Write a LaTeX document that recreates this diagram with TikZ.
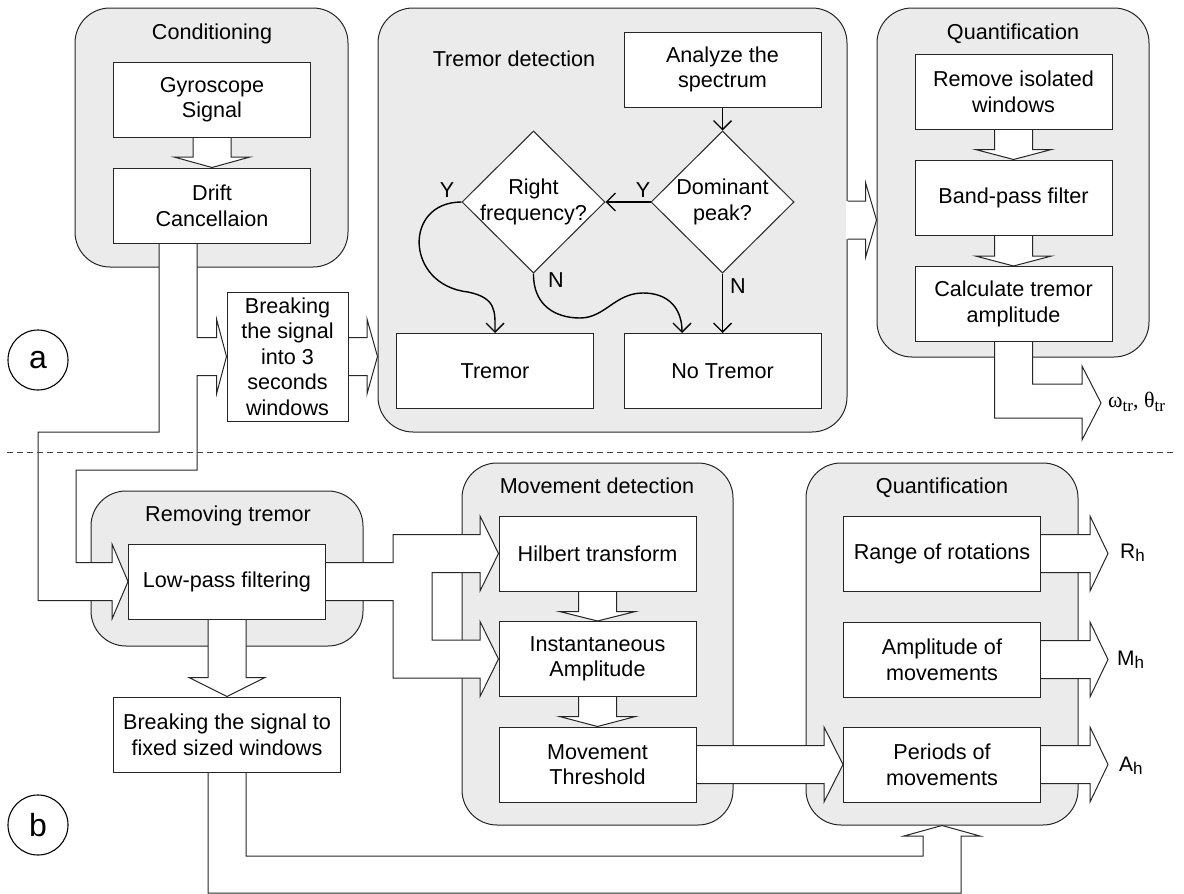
\documentclass[tikz,border=0pt]{standalone}
\usepackage{fontspec}
\setmainfont{Liberation Sans}
\newfontfamily\serifgreek{Liberation Serif}
\usetikzlibrary{shapes.geometric,arrows.meta,calc}
\definecolor{cgray}{RGB}{235,235,235}
\pgfdeclarelayer{bg}
\pgfdeclarelayer{arr}
\pgfsetlayers{bg,arr,main}
\tikzset{
 container/.style={draw=black!85, fill=cgray, line width=1pt, rounded corners=35pt, inner sep=0pt},
 title/.style={anchor=base, inner sep=0pt},
 stepbox/.style={draw=black!85, fill=white, line width=1pt, align=center, inner sep=0pt, minimum width=197pt, minimum height=75pt},
 decision/.style={diamond, draw=black!85, fill=white, line width=1pt, inner sep=0pt, minimum width=143pt, minimum height=142pt},
 blkfill/.style={fill=white},
 blkline/.style={draw=black!85, line width=1pt},
 flow/.style={draw=black, line width=1.4pt, -{Straight Barb[length=9pt,width=18pt]}},
 yn/.style={anchor=base, inner sep=0pt},
 outlabel/.style={anchor=west, inner sep=0pt, font=\fontsize{21}{24}\selectfont},
 marker/.style={circle, draw=black, line width=1.1pt, minimum size=60pt, inner sep=0pt, font=\fontsize{32}{32}\selectfont},
}
\newcommand{\lowsub}[1]{\raisebox{-3.5pt}{\fontsize{17}{17}\selectfont #1}}
% vertical block arrow: #1 source (above), #2 target (below), #3 head length
\newcommand{\vblock}[3]{%
 \fill[blkfill] ($(#1.south)+(-19,-1.5)$) -- ($(#2.north)+(-19,-#3)$) -- ($(#2.north)+(-38,-#3)$) -- (#2.north) -- ($(#2.north)+(38,-#3)$) -- ($(#2.north)+(19,-#3)$) -- ($(#1.south)+(19,-1.5)$) -- cycle;
 \draw[blkline] ($(#1.south)+(-19,0)$) -- ($(#2.north)+(-19,-#3)$) -- ($(#2.north)+(-38,-#3)$) -- (#2.north) -- ($(#2.north)+(38,-#3)$) -- ($(#2.north)+(19,-#3)$) -- ($(#1.south)+(19,0)$);}
% horizontal block arrow: #1 source (left), #2 target (right), #3 head length
\newcommand{\hblock}[3]{%
 \coordinate (hbtip) at (#1.east -| #2.west);
 \fill[blkfill] ($(#1.east)+(-1.5,-19)$) -- ($(hbtip)+(-#3,-19)$) -- ($(hbtip)+(-#3,-37.5)$) -- (hbtip) -- ($(hbtip)+(-#3,37.5)$) -- ($(hbtip)+(-#3,19)$) -- ($(#1.east)+(-1.5,19)$) -- cycle;
 \draw[blkline] ($(#1.east)+(0,-19)$) -- ($(hbtip)+(-#3,-19)$) -- ($(hbtip)+(-#3,-37.5)$) -- (hbtip) -- ($(hbtip)+(-#3,37.5)$) -- ($(hbtip)+(-#3,19)$) -- ($(#1.east)+(0,19)$);}
\begin{document}
\begin{tikzpicture}[x=1pt,y=-1pt,font=\fontsize{21.6}{25.6}\selectfont]
\useasboundingbox (0,0) rectangle (1184,894);
% ---------- containers ----------
\begin{pgfonlayer}{bg}
\node[container, minimum width=273pt, minimum height=259pt] (cond) at (211.5,137.5) {};
\node[container, minimum width=469pt, minimum height=424pt] (tremdet) at (612.5,220) {};
\node[container, minimum width=272pt, minimum height=349pt] (quantA) at (1013,182.5) {};
\node[container, minimum width=272pt, minimum height=155pt] (remtrem) at (227,568.5) {};
\node[container, minimum width=271pt, minimum height=362pt] (movdet) at (597.5,644) {};
\node[container, minimum width=272pt, minimum height=362pt] (quantB) at (942,644) {};
\end{pgfonlayer}
% ---------- boxes ----------
\node[stepbox] (gyro) at (212,99.5) {Gyroscope\\Signal};
\node[stepbox] (drift) at (212,205.5) {Drift\\Cancellaion};
\node[stepbox, minimum width=121pt, minimum height=129pt] (breakA) at (287.5,356.5) {Breaking\\the signal\\into 3\\seconds\\windows};
\node[stepbox] (analyze) at (722.5,69.5) {Analyze the\\spectrum};
\node[decision, label={[align=center]center:Dominant\\peak?}] (dom) at (722.5,202) {};
\node[decision, label={[align=center]center:Right\\frequency?}] (rfreq) at (533.5,202) {};
\node[stepbox] (tremor) at (495,371) {Tremor};
\node[stepbox] (notremor) at (722.5,371) {No Tremor};
\node[stepbox] (remove) at (1013.5,91.5) {Remove isolated\\windows};
\node[stepbox] (band) at (1013.5,197.5) {Band-pass filter};
\node[stepbox] (calc) at (1013.5,304) {Calculate tremor\\amplitude};
\node[stepbox] (lowpass) at (227,581.5) {Low-pass filtering};
\node[stepbox, minimum width=227pt] (breakB) at (227,734.5) {Breaking the signal to\\fixed sized windows};
\node[stepbox] (hilbert) at (597.5,553.5) {Hilbert transform};
\node[stepbox] (inst) at (597.5,659) {Instantaneous\\Amplitude};
\node[stepbox] (thresh) at (597.5,764.5) {Movement\\Threshold};
\node[stepbox] (range) at (942,553.5) {Range of rotations};
\node[stepbox] (ampl) at (942,659.5) {Amplitude of\\movements};
\node[stepbox] (periods) at (942,764.5) {Periods of\\movements};
% output tips
\coordinate (Rtip) at (1108,553.5);
\coordinate (Mtip) at (1108,659.5);
\coordinate (Atip) at (1108,764.5);
\coordinate (Wtip) at (1101,403);
% ---------- block arrows ----------
\begin{pgfonlayer}{arr}
\vblock{gyro}{drift}{10.5}
\vblock{remove}{band}{10}
\vblock{band}{calc}{10}
\vblock{hilbert}{inst}{9.5}
\vblock{inst}{thresh}{10}
\vblock{lowpass}{breakB}{19}
\hblock{breakA}{tremdet}{10.5}
\hblock{tremdet}{quantA}{11}
\hblock{thresh}{periods}{19}
\hblock{range}{Rtip}{18}
\hblock{ampl}{Mtip}{18}
\hblock{periods}{Atip}{18}
% drift cancellation -> breaking (3 s) and -> low-pass filtering
\filldraw[blkfill, blkline] ($(drift.south)+(-53,-1.5)$) -- (159,432) -- (38,432) -- (38,600.5) -- (112,600.5) -- (112,619) -- (lowpass.west) -- (112,544) -- (112,562.5) -- (76,562.5) -- (76,470) -- (197,470) -- (197,375.5) -- (216.5,375.5) -- (216.5,394) -- (breakA.west) -- (216.5,319) -- (216.5,337.5) -- (197,337.5) -- ($(drift.south)+(-15,-1.5)$) -- cycle;
% low-pass filtering -> hilbert and -> instantaneous amplitude
\filldraw[blkfill, blkline] ($(lowpass.east)+(-1.5,-19)$) -- (393,562.5) -- (393,534.5) -- (480,534.5) -- (480,516) -- (hilbert.west) -- (480,591) -- (480,572.5) -- (432,572.5) -- (432,640) -- (480,640) -- (480,621.5) -- (inst.west) -- (480,696.5) -- (480,678) -- (393,678) -- (393,600.5) -- ($(lowpass.east)+(-1.5,19)$) -- cycle;
% fixed windows -> quantification (bottom)
\filldraw[blkfill, blkline] ($(breakB.south)+(-19,-1.5)$) -- (208,893) -- (961,893) -- (961,836) -- (980,836) -- (quantB.south) -- (904,836) -- (923,836) -- (923,856) -- (246,856) -- ($(breakB.south)+(19,-1.5)$) -- cycle;
% tremor amplitude -> output
\filldraw[blkfill, blkline] ($(calc.south)+(-19,-1.5)$) -- (994.5,418) -- (1082,418) -- (1082,440) -- (Wtip) -- (1082,366) -- (1082,384) -- (1032.5,384) -- ($(calc.south)+(19,-1.5)$) -- cycle;
\end{pgfonlayer}
% ---------- titles ----------
\node[title] (tcond) at (212,39) {Conditioning};
\node[title] (ttrem) at (514,66) {Tremor detection};
\node[title] (tqa) at (1013,39) {Quantification};
\node[title] (trem) at (228,521) {Removing tremor};
\node[title] (tmov) at (597,493) {Movement detection};
\node[title] (tqb) at (942,493) {Quantification};
% ---------- flowchart connectors ----------
\draw[flow] (analyze.south) -- (dom.north);
\draw[flow] (dom.west) -- (rfreq.east);
\draw[flow] (dom.south) -- (notremor.north);
\draw[flow] (rfreq.west) .. controls (403,202) and (405,285) .. (468,292) .. controls (497,298) and (495,312) .. (tremor.north);
\draw[flow] (rfreq.south) .. controls (533,305) and (555,318) .. (580,318) .. controls (605,318) and (615,293) .. (643,293) .. controls (670,293) and (682,310) .. ($(notremor.north)+(-40.5,0)$);
\node[yn] (y1) at (643,197) {Y};
\node[yn] (y2) at (447,197) {Y};
\node[yn] (n1) at (556,287) {N};
\node[yn] (n2) at (738,293) {N};
% ---------- outputs ----------
\node[outlabel] (Rh) at (1120,553) {R\lowsub{h}};
\node[outlabel] (Mh) at (1117,660) {M\lowsub{h}};
\node[outlabel] (Ah) at (1119,766) {A\lowsub{h}};
\node[outlabel, font=\fontsize{22}{24}\selectfont\serifgreek] (wth) at (1108,402) {ω\lowsub{tr}, θ\lowsub{tr}};
% ---------- markers and separator ----------
\node[marker] (ma) at (38,360) {a};
\node[marker] (mb) at (38,825) {b};
\draw[black!75, line width=0.9pt, dash pattern=on 6pt off 4pt] (7,452) -- (1176,452);
\end{tikzpicture}
\end{document}
